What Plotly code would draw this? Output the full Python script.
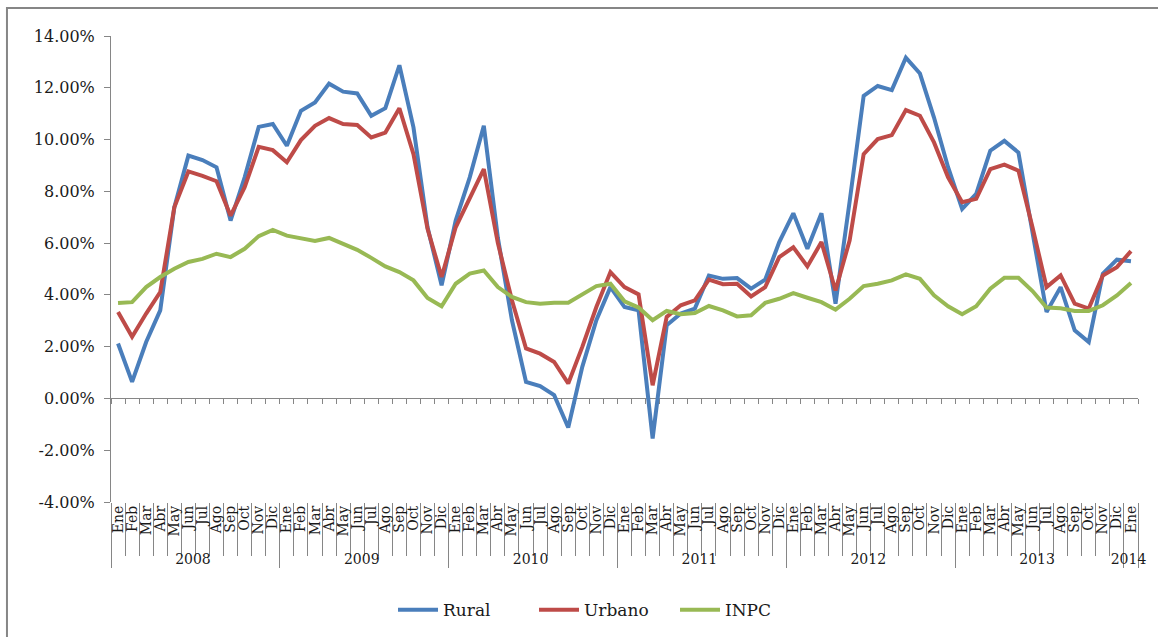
import plotly.graph_objects as go

months = ["Ene", "Feb", "Mar", "Abr", "May", "Jun", "Jul", "Ago", "Sep", "Oct", "Nov", "Dic"]
years = ["2008", "2009", "2010", "2011", "2012", "2013", "2014"]

rural = [2.12, 0.64, 2.18, 3.40, 7.38, 9.38, 9.21, 8.93, 6.87, 8.54, 10.49, 10.60,
         9.76, 11.11, 11.43, 12.16, 11.85, 11.78, 10.92, 11.21, 12.87, 10.47, 6.61, 4.37,
         6.87, 8.54, 10.53, 6.20, 3.02, 0.64, 0.48, 0.13, -1.12, 1.22, 3.02, 4.30,
         3.53, 3.40, -1.55, 2.83, 3.28, 3.47, 4.75, 4.62, 4.65, 4.24, 4.59, 6.04,
         7.15, 5.78, 7.15, 3.66, 7.60, 11.69, 12.07, 11.91, 13.16, 12.55, 10.85, 8.93,
         7.32, 7.90, 9.57, 9.95, 9.50, 6.36, 3.34, 4.30, 2.63, 2.18, 4.82, 5.36,
         5.30]
urbano = [3.34, 2.38, 3.28, 4.11, 7.38, 8.77, 8.60, 8.39, 7.06, 8.16, 9.72, 9.59,
          9.12, 9.98, 10.53, 10.83, 10.60, 10.56, 10.08, 10.27, 11.21, 9.44, 6.55, 4.69,
          6.61, 7.77, 8.86, 6.00, 3.79, 1.93, 1.73, 1.41, 0.58, 1.99, 3.53, 4.88,
          4.30, 4.02, 0.51, 3.15, 3.60, 3.79, 4.59, 4.41, 4.43, 3.94, 4.30, 5.46,
          5.84, 5.10, 6.04, 4.17, 6.10, 9.44, 10.02, 10.17, 11.14, 10.92, 9.89, 8.54,
          7.58, 7.71, 8.86, 9.03, 8.80, 6.61, 4.30, 4.75, 3.66, 3.47, 4.75, 5.07,
          5.69]
inpc = [3.69, 3.72, 4.30, 4.69, 5.01, 5.27, 5.39, 5.59, 5.46, 5.78, 6.27, 6.51,
        6.29, 6.20, 6.08, 6.20, 5.97, 5.74, 5.43, 5.10, 4.88, 4.56, 3.88, 3.56,
        4.43, 4.82, 4.94, 4.30, 3.92, 3.72, 3.66, 3.70, 3.70, 4.02, 4.34, 4.43,
        3.75, 3.51, 3.02, 3.38, 3.25, 3.30, 3.57, 3.40, 3.17, 3.21, 3.69, 3.85,
        4.07, 3.89, 3.72, 3.43, 3.85, 4.34, 4.43, 4.56, 4.79, 4.62, 3.98, 3.56,
        3.25, 3.56, 4.24, 4.66, 4.66, 4.15, 3.51, 3.48, 3.38, 3.38, 3.60, 3.98,
        4.46]

y_ticks = [-4, -2, 0, 2, 4, 6, 8, 10, 12, 14]
y_tick_text = [f"{v:.2f}%" for v in y_ticks]

n = len(rural)
x_year = [years[i // 12] for i in range(n)]
x_month = [months[i % 12] for i in range(n)]
boundaries = [i - 0.5 for i in range(n + 1)]

ymin, ymax = -4, 14
zero_pos = (0 - ymin) / (ymax - ymin)

FONT = "DejaVu Serif"
TXT = "#1a1a1a"
GRAY = "#868686"

fig = go.Figure()
for name, vals, col in [("Rural", rural, "#4A7EBB"),
                        ("Urbano", urbano, "#BE4B48"),
                        ("INPC", inpc, "#98B954")]:
    fig.add_trace(go.Scatter(x=[x_year, x_month], y=vals, name=name, mode="lines",
                             line=dict(color=col, width=4)))

# helper trace so the zero-line axis is drawn
fig.add_trace(go.Scatter(x=[0, 1], y=[None, None], xaxis="x2", showlegend=False, hoverinfo="skip"))

fig.update_layout(
    width=1158, height=637,
    margin=dict(l=111, r=20, t=36, b=135, autoexpand=False),
    paper_bgcolor="white", plot_bgcolor="white",
    font=dict(family=FONT, color=TXT),
    showlegend=True,
    legend=dict(orientation="h", x=0.2746, xanchor="left", y=-0.232, yanchor="middle",
                font=dict(size=17, family=FONT, color=TXT), itemwidth=40,
                entrywidth=86, entrywidthmode="pixels",
                traceorder="normal"),
    xaxis=dict(type="multicategory", range=[-0.5, n - 0.5], showgrid=False, zeroline=False,
               showline=False, ticks="outside", ticklen=53, tickcolor=GRAY, tickwidth=1,
               tickson="boundaries",
               tickangle=-90, tickmode="linear", tick0=0, dtick=1,
               automargin=False,
               tickfont=dict(size=14, family=FONT, color=TXT),
               showdividers=True, dividercolor=GRAY, dividerwidth=1),
    xaxis2=dict(overlaying="x", anchor="free", position=zero_pos, range=[-0.5, n - 0.5],
                showgrid=False, zeroline=False, showline=True, linecolor=GRAY, linewidth=1,
                ticks="outside", ticklen=5, tickcolor=GRAY, tickvals=boundaries,
                showticklabels=False, layer="below traces", automargin=False),
    yaxis=dict(range=[ymin, ymax], tickvals=y_ticks, ticktext=y_tick_text,
               showgrid=False, zeroline=False, showline=True, linecolor=GRAY, linewidth=1,
               ticks="outside", ticklen=6, tickcolor=GRAY, ticklabelstandoff=6,
               automargin=False,
               tickfont=dict(size=16, family=FONT, color=TXT)),
    shapes=[dict(type="rect", xref="paper", yref="paper",
                 x0=-0.1013, x1=1.2, y0=-0.8, y1=1.06,
                 line=dict(color=GRAY, width=2), fillcolor="rgba(0,0,0,0)", layer="below")],
)

fig.write_html("out.html", config={"displayModeBar": False},
               post_script="document.body.style.margin='0';")
